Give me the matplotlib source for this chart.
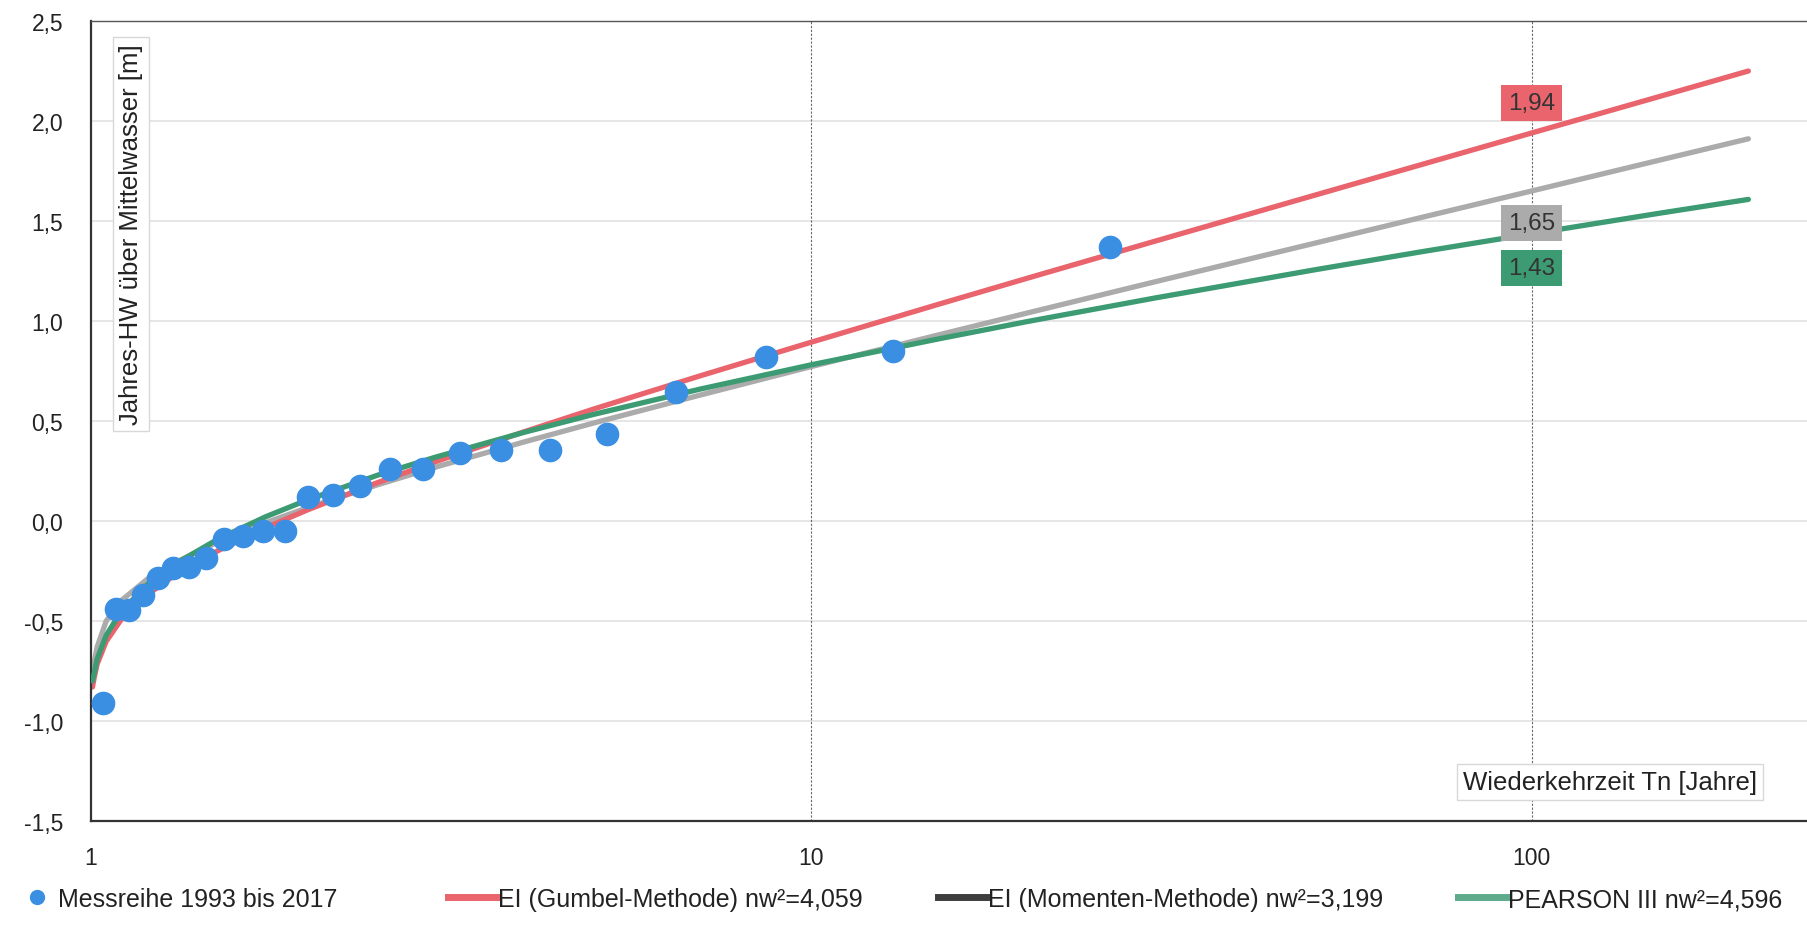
import matplotlib
matplotlib.use("Agg")
import matplotlib.pyplot as plt
from matplotlib.lines import Line2D
from matplotlib.ticker import FuncFormatter, FixedLocator, NullLocator

plt.rcParams['font.family'] = ['Liberation Sans', 'DejaVu Sans']
plt.rcParams['text.color'] = '#222222'
plt.rcParams['xtick.labelsize'] = 16.5
plt.rcParams['ytick.labelsize'] = 16.5

# Messreihe 1993 bis 2017 (Wiederkehrzeit, Jahres-HW)
mess_T = [1.04, 1.083, 1.13, 1.182, 1.238, 1.3, 1.368, 1.444, 1.529, 1.625,
          1.733, 1.857, 2.0, 2.167, 2.364, 2.6, 2.889, 3.25, 3.714, 4.333,
          5.2, 6.5, 8.667, 13.0, 26.0]
mess_hw = [-0.91, -0.44, -0.445, -0.37, -0.285, -0.237, -0.228, -0.183, -0.09, -0.073,
           -0.05, -0.048, 0.12, 0.13, 0.175, 0.26, 0.26, 0.34, 0.355, 0.355,
           0.435, 0.643, 0.822, 0.851, 1.372]

# Verteilungskurven
curve_T = [1.005, 1.01, 1.02, 1.05, 1.1, 1.2, 1.3, 1.5, 1.75, 2, 2.5, 3, 4, 5, 7,
           10, 15, 20, 30, 50, 70, 100, 150, 200]
gumbel = [-0.83, -0.787, -0.716, -0.602, -0.496, -0.366, -0.277, -0.149, -0.033, 0.056, 0.192,
          0.295, 0.447, 0.561, 0.725, 0.894, 1.083, 1.215, 1.399, 1.629, 1.780,
          1.940, 2.121, 2.250]
momente = [-0.76, -0.71, -0.63, -0.50, -0.40, -0.288, -0.213, -0.105, -0.008, 0.067, 0.181,
           0.268, 0.396, 0.491, 0.629, 0.772, 0.930, 1.041, 1.196, 1.389, 1.516,
           1.650, 1.803, 1.911]
pearson = [-0.80, -0.765, -0.69, -0.572, -0.455, -0.315, -0.221, -0.091, 0.022, 0.106, 0.229,
           0.318, 0.444, 0.534, 0.659, 0.781, 0.910, 0.998, 1.115, 1.256, 1.345,
           1.436, 1.538, 1.608]

# Werte bei Tn = 100
label_vals = ["1,94", "1,65", "1,43"]

legend_labels = ["Messreihe 1993 bis 2017",
                 "EI (Gumbel-Methode) nw²=4,059",
                 "EI (Momenten-Methode) nw²=3,199",
                 "PEARSON III nw²=4,596"]

c_red = '#e9646d'
c_grey = '#ababab'
c_green = '#3c9b72'
c_blue = '#3a8fe3'

fig = plt.figure(figsize=(18.08, 9.29), dpi=100)
ax = fig.add_axes([0.0503, 0.1152, 0.9497, 0.8611])

ax.set_xscale('log')
ax.set_xlim(1, 242)
ax.set_ylim(-1.5, 2.5)

# grid
for yv in [-1.0, -0.5, 0.0, 0.5, 1.0, 1.5, 2.0]:
    ax.axhline(yv, color='#e4e4e4', lw=1.3, zorder=0)
for xv in [10, 100]:
    ax.axvline(xv, color='#666666', lw=0.8, ls=(0, (2, 1.5)), zorder=0)

ax.plot(curve_T, momente, color=c_grey, lw=3.8, solid_capstyle='round', zorder=2)
ax.plot(curve_T, pearson, color=c_green, lw=3.8, solid_capstyle='round', zorder=3)
ax.plot(curve_T, gumbel, color=c_red, lw=3.8, solid_capstyle='round', zorder=2.5)
ax.plot(mess_T, mess_hw, ls='', marker='o', ms=16, color=c_blue, mec=c_blue, zorder=5)

# value boxes at T=100
box_y = [2.09, 1.49, 1.265]
for txt, yy, fc in zip(label_vals, box_y, [c_red, c_grey, c_green]):
    ax.text(100, yy, txt, ha='center', va='center', fontsize=17.5, color='#333333',
            bbox=dict(boxstyle='square,pad=0.3', fc=fc, ec='none'), zorder=6)

# axis titles inside the plot (pixel positions)
ax.text(131, 929 - 235, "Jahres-HW über Mittelwasser [m]", transform=None, rotation=90,
        ha='center', va='center', fontsize=18.5,
        bbox=dict(boxstyle='square,pad=0.25', fc='white', ec='#d8d8d8'), zorder=6)
ax.text(1610, 929 - 783, "Wiederkehrzeit Tn [Jahre]", transform=None,
        ha='center', va='center', fontsize=18.5,
        bbox=dict(boxstyle='square,pad=0.25', fc='white', ec='#d8d8d8'), zorder=6)

# ticks
ax.xaxis.set_major_locator(FixedLocator([1, 10, 100]))
ax.xaxis.set_minor_locator(NullLocator())
ax.xaxis.set_major_formatter(FuncFormatter(lambda v, p: f"{v:g}"))
ax.set_yticks([-1.5, -1.0, -0.5, 0.0, 0.5, 1.0, 1.5, 2.0, 2.5])
ax.yaxis.set_major_formatter(FuncFormatter(lambda v, p: f"{v:.1f}".replace('.', ',')))
ax.tick_params(axis='both', length=0, labelsize=16.5, colors='#222222')
ax.tick_params(axis='y', pad=20)
ax.tick_params(axis='x', pad=18)

for s in ['left', 'bottom']:
    ax.spines[s].set_color('#333333')
    ax.spines[s].set_linewidth(1.6)
ax.spines['top'].set_color('#555555')
ax.spines['top'].set_linewidth(1.0)
ax.spines['right'].set_visible(False)

# legend in two parts so the columns sit where they do in the original
h_mess = Line2D([], [], ls='', marker='o', ms=10, color=c_blue)
h_lines = [Line2D([], [], color=c_red, lw=5),
           Line2D([], [], color='#3d3d3d', lw=5),
           Line2D([], [], color='#5daa8c', lw=5)]
leg1 = fig.legend([h_mess], legend_labels[:1], loc='center left',
                  bbox_to_anchor=(0.010, 0.031), frameon=False, fontsize=18,
                  handlelength=1.5, handletextpad=0.1, borderpad=0, borderaxespad=0)
fig.legend(h_lines, legend_labels[1:], loc='center left',
           bbox_to_anchor=(0.2478, 0.031), ncol=3, frameon=False, fontsize=18,
           handlelength=1.95, handletextpad=0.05, columnspacing=3.0,
           borderpad=0, borderaxespad=0)

fig.savefig("out.png", dpi=100)
